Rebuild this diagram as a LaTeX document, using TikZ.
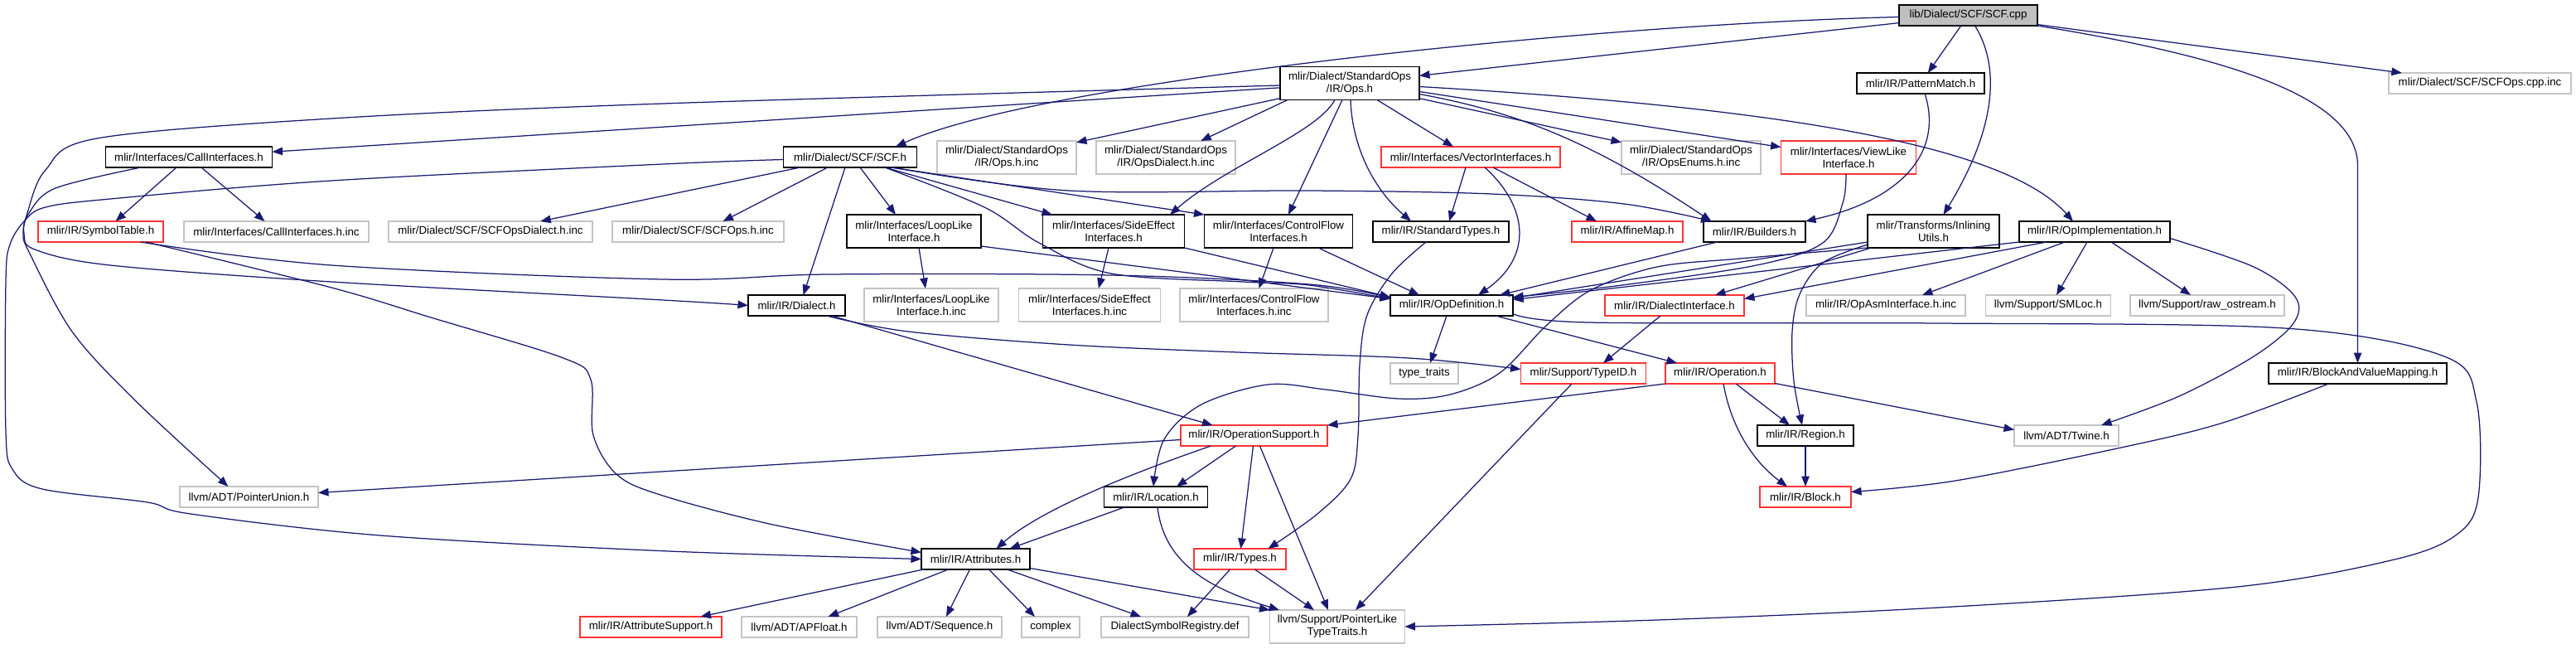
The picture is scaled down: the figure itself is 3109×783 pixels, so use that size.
\documentclass[tikz,border=0pt]{standalone}
\usepackage{fontspec}
\setmainfont{Liberation Sans}
\usetikzlibrary{arrows.meta}
\definecolor{edgecol}{HTML}{191970}
\definecolor{boxred}{HTML}{FF3333}
\definecolor{boxgray}{HTML}{C4C4C4}
\definecolor{rootfill}{HTML}{BFBFBF}
\newcommand{\bx}[6]{\node[#1,minimum width=#4pt,minimum height=#5pt] (#2) at (#3) {#6};}
\tikzset{
 base/.style={rectangle, inner sep=0pt, outer sep=0pt, align=center, text=black, font=\fontsize{13.3}{15}\selectfont},
 blk/.style={base, draw=black, line width=1.4pt},
 redb/.style={base, draw=boxred, line width=1.5pt},
 grayb/.style={base, draw=boxgray, line width=1.5pt},
 rootb/.style={base, draw=black, fill=rootfill, line width=1.4pt},
 dep/.style={draw=edgecol, line width=1.25pt, -{Triangle[length=12.5pt,width=9.5pt]}},
 sm/.style={smooth, tension=0.55}
}
\begin{document}
\begin{tikzpicture}[x=1pt,y=-1pt]
\useasboundingbox (0,0) rectangle (3109,783);
% ---------- nodes ----------
\bx{rootb}{root}{2375.5,18.5}{167}{25}{lib/Dialect/SCF/SCF.cpp}
\bx{blk}{ops}{1629,100.5}{168}{40}{mlir/Dialect/StandardOps\\/IR/Ops.h}
\bx{blk}{pattern}{2318,100.5}{154}{25}{mlir/IR/PatternMatch.h}
\bx{grayb}{scfopscpp}{2993,100.5}{220}{25}{mlir/Dialect/SCF/SCFOps.cpp.inc}
\bx{blk}{callif}{228,189.5}{201}{25}{mlir/Interfaces/CallInterfaces.h}
\bx{blk}{scfh}{1026,189.5}{161}{25}{mlir/Dialect/SCF/SCF.h}
\bx{grayb}{opsinc}{1215,190}{168}{40}{mlir/Dialect/StandardOps\\/IR/Ops.h.inc}
\bx{grayb}{opsdialectinc}{1407,190}{168}{40}{mlir/Dialect/StandardOps\\/IR/OpsDialect.h.inc}
\bx{redb}{vectorif}{1775,189.5}{216}{25}{mlir/Interfaces/VectorInterfaces.h}
\bx{grayb}{opsenums}{2041,190}{168}{40}{mlir/Dialect/StandardOps\\/IR/OpsEnums.h.inc}
\bx{redb}{viewlike}{2231,190}{163}{40}{mlir/Interfaces/ViewLike\\Interface.h}
\bx{redb}{symtab}{121.5,279.5}{151}{25}{mlir/IR/SymbolTable.h}
\bx{grayb}{callifinc}{333.5,279.5}{223}{25}{mlir/Interfaces/CallInterfaces.h.inc}
\bx{grayb}{scfdialectinc}{592,279.5}{246}{25}{mlir/Dialect/SCF/SCFOpsDialect.h.inc}
\bx{grayb}{scfopsinc}{842.5,279.5}{207}{25}{mlir/Dialect/SCF/SCFOps.h.inc}
\bx{blk}{looplike}{1103,279}{162}{40}{mlir/Interfaces/LoopLike\\Interface.h}
\bx{blk}{sideeffect}{1344,279}{171}{40}{mlir/Interfaces/SideEffect\\Interfaces.h}
\bx{blk}{controlflow}{1543,279}{179}{40}{mlir/Interfaces/ControlFlow\\Interfaces.h}
\bx{blk}{stdtypes}{1739,279.5}{164}{25}{mlir/IR/StandardTypes.h}
\bx{redb}{affinemap}{1964,279.5}{134}{25}{mlir/IR/AffineMap.h}
\bx{blk}{builders}{2117.5,279.5}{123}{25}{mlir/IR/Builders.h}
\bx{blk}{inlining}{2333.5,279}{159}{40}{mlir/Transforms/Inlining\\Utils.h}
\bx{blk}{opimpl}{2528,279.5}{182}{25}{mlir/IR/OpImplementation.h}
\bx{blk}{dialect}{961.5,368.5}{117}{25}{mlir/IR/Dialect.h}
\bx{grayb}{looplikeinc}{1124,368}{162}{40}{mlir/Interfaces/LoopLike\\Interface.h.inc}
\bx{grayb}{sideeffectinc}{1315,368}{171}{40}{mlir/Interfaces/SideEffect\\Interfaces.h.inc}
\bx{grayb}{controlflowinc}{1513.5,368}{179}{40}{mlir/Interfaces/ControlFlow\\Interfaces.h.inc}
\bx{blk}{opdef}{1752,368.5}{148}{25}{mlir/IR/OpDefinition.h}
\bx{redb}{dialectif}{2021,368.5}{168}{25}{mlir/IR/DialectInterface.h}
\bx{grayb}{opasm}{2276,368.5}{192}{25}{mlir/IR/OpAsmInterface.h.inc}
\bx{grayb}{smloc}{2472,368.5}{151}{25}{llvm/Support/SMLoc.h}
\bx{grayb}{rawostream}{2664,368.5}{186}{25}{llvm/Support/raw\_ostream.h}
\bx{grayb}{typetraits}{1719,450.5}{82}{25}{type\_traits}
\bx{redb}{typeid}{1911,450.5}{151}{25}{mlir/Support/TypeID.h}
\bx{redb}{operation}{2076,450.5}{132}{25}{mlir/IR/Operation.h}
\bx{blk}{bavm}{2845.5,450.5}{215}{25}{mlir/IR/BlockAndValueMapping.h}
\bx{redb}{opsupport}{1513.5,525.5}{177}{25}{mlir/IR/OperationSupport.h}
\bx{blk}{region}{2179,525.5}{116}{25}{mlir/IR/Region.h}
\bx{grayb}{twine}{2494,525.5}{126}{25}{llvm/ADT/Twine.h}
\bx{grayb}{pointerunion}{300.5,599.5}{167}{25}{llvm/ADT/PointerUnion.h}
\bx{blk}{location}{1395,599.5}{125}{25}{mlir/IR/Location.h}
\bx{redb}{block}{2179,599.5}{110}{25}{mlir/IR/Block.h}
\bx{blk}{attributes}{1177.5,674.5}{131}{25}{mlir/IR/Attributes.h}
\bx{redb}{types}{1496.5,674.5}{111}{25}{mlir/IR/Types.h}
\bx{redb}{attrsupport}{785.5,756.5}{171}{25}{mlir/IR/AttributeSupport.h}
\bx{grayb}{apfloat}{964.5,756.5}{139}{25}{llvm/ADT/APFloat.h}
\bx{grayb}{sequence}{1134,756.5}{150}{25}{llvm/ADT/Sequence.h}
\bx{grayb}{complex}{1268,756.5}{70}{25}{complex}
\bx{grayb}{dsr}{1418,756.5}{178}{25}{DialectSymbolRegistry.def}
\bx{grayb}{ptrlike}{1614,756}{163}{40}{llvm/Support/PointerLike\\TypeTraits.h}
% ---------- edges from SCF.cpp ----------
\draw[dep] (root) -- (ops);
\draw[dep] (root) .. controls (1900,30) and (1250,100) .. ([xshift=55]scfh.north);
\draw[dep] (root) -- (pattern);
\draw[dep] ([xshift=8]root.south) .. controls (2420,90) and (2400,170) .. ([xshift=12]inlining.north);
\draw[dep] (root) -- (scfopscpp);
\draw[dep] (root.south east) .. controls (2700,70) and (2845.5,120) .. (2845.5,200) -- (bavm.north);
% ---------- edges from Ops.h ----------
\draw[dep] (ops) -- (callif);
\draw[dep] plot[sm] coordinates {([yshift=-2.5]ops.west) (800,125) (400,143) (117,167) (55,205) (33,257) (29,282) (42,301) (133,320) (400,340) (800,362) (dialect.west)};
\draw[dep] (ops) -- (opsinc);
\draw[dep] ([xshift=-75]ops.south) -- (opsdialectinc);
\draw[dep] ([xshift=-18]ops.south) .. controls (1590,160) and (1480,200) .. ([xshift=68]sideeffect.north);
\draw[dep] ([xshift=-9]ops.south) -- ([xshift=12]controlflow.north);
\draw[dep] ([xshift=1]ops.south) .. controls (1632,180) and (1660,230) .. ([xshift=-36]stdtypes.north);
\draw[dep] ([xshift=33]ops.south) -- ([xshift=-21]vectorif.north);
\draw[dep] (ops) -- (opsenums);
\draw[dep] ([yshift=-10]ops.east) -- (viewlike);
\draw[dep] ([yshift=-13]ops.east) .. controls (1830,135) and (1920,170) .. ([xshift=-52]builders.north);
\draw[dep] ([yshift=-4]ops.east) .. controls (2150,130) and (2420,175) .. ([xshift=-26]opimpl.north);
% ---------- edges from SCF.h ----------
\draw[dep] plot[sm] coordinates {([yshift=-3]scfh.west) (800,198) (400,218) (133,240) (55,250) (30,266) (12,295) (7,340) (7,520) (15,566) (51,590) (178,606) (230,620) (459,646) (800,664.7) (attributes.west)};
\draw[dep] (scfh) -- (scfdialectinc);
\draw[dep] ([xshift=-27]scfh.south) -- ([xshift=30]scfopsinc.north);
\draw[dep] ([xshift=-6]scfh.south) -- ([xshift=8]dialect.north);
\draw[dep] ([xshift=12]scfh.south) -- ([xshift=-22]looplike.north);
\draw[dep] ([xshift=42]scfh.south) -- ([xshift=-74]sideeffect.north);
\draw[dep] ([xshift=50]scfh.south) -- (controlflow.north west);
\draw[dep] plot[sm] coordinates {([xshift=50]scfh.south) (1290,230) (1580,230) (1800,234) (1960,246) ([xshift=-52]builders.north)};
\draw[dep] plot[sm] coordinates {([xshift=42]scfh.south) (1188,250) (1254,293) (1341,330) (1500,340) (1580,344) ([yshift=8]opdef.west)};
% ---------- CallInterfaces / SymbolTable ----------
\draw[dep] ([xshift=-15]callif.south) -- ([xshift=18]symtab.north);
\draw[dep] ([xshift=15]callif.south) -- ([xshift=-14]callifinc.north);
\draw[dep] plot[sm] coordinates {([xshift=-58]callif.south) (67,227) (35,257) (28,282) (36,306) (87,400) (163,483) ([xshift=-25]pointerunion.north)};
\draw[dep] plot[sm] coordinates {([xshift=48]symtab.south) (400,320) (800,337) (1000,331) (1340,332) (1580,343) ([yshift=9]opdef.west)};
\draw[dep] plot[sm] coordinates {([xshift=55]symtab.south) (400,347) (520,383) (680,432) (713,458) (716,525) (745,573) (800,598) (933,633) ([yshift=8]attributes.west)};
% ---------- Dialect.h ----------
\draw[dep] plot[sm] coordinates {([xshift=36]dialect.south) (1096,400) (1290,416) (1494,425) (1700,432) ([yshift=5]typeid.west)};
\draw[dep] ([xshift=42]dialect.south) -- ([xshift=-50]opsupport.north);
% ---------- interfaces ----------
\draw[dep] ([xshift=6]looplike.south) -- ([xshift=-7]looplikeinc.north);
\draw[dep] ([yshift=-18]looplike.east) -- ([yshift=8]opdef.west);
\draw[dep] ([xshift=-6]sideeffect.south) -- ([xshift=11]sideeffectinc.north);
\draw[dep] (sideeffect.south east) -- ([yshift=10]opdef.west);
\draw[dep] ([xshift=-6]controlflow.south) -- ([xshift=6]controlflowinc.north);
\draw[dep] ([xshift=48]controlflow.south) -- ([xshift=-39]opdef.north);
\draw[dep] ([xshift=-6]vectorif.south) -- ([xshift=10]stdtypes.north);
\draw[dep] ([xshift=27]vectorif.south) -- ([xshift=-37]affinemap.north);
\draw[dep] ([xshift=17]vectorif.south) .. controls (1845,250) and (1850,310) .. ([xshift=32]opdef.north);
\draw[dep] plot[sm] coordinates {([xshift=-18]stdtypes.south) (1680,330) (1650,380) (1641,440) (1639,526) (1630,578) (1590,620) ([xshift=34]types.north)};
\draw[dep] ([xshift=-45]builders.south) -- ([xshift=58]opdef.north);
\draw[dep] ([xshift=5]pattern.south) .. controls (2345,180) and (2300,240) .. (builders.north east);
\draw[dep] plot[sm] coordinates {([xshift=-3]viewlike.south) (2224,245) (2200,293) (2120,320) (1950,345) ([yshift=10]opdef.east)};
% ---------- InliningUtils ----------
\draw[dep] ([yshift=-13]inlining.west) -- ([yshift=9]opdef.east);
\draw[dep] ([xshift=-75]inlining.south) -- ([xshift=49]dialectif.north);
\draw[dep] plot[sm] coordinates {([yshift=-16]inlining.west) (2200,317) (2172,355) (2163,400) (2165,460) ([xshift=-4]region.north)};
\draw[dep] plot[sm] coordinates {(inlining.south west) (2100,312) (2000,322) (1920,350) (1866,393) (1810,450) (1750,476) (1688,481) (1600,470) (1530,464) (1450,488) (1405,530) ([xshift=-3]location.north)};
% ---------- OpImplementation ----------
\draw[dep] (opimpl.south west) -- ([yshift=7]opdef.east);
\draw[dep] ([xshift=-58]opimpl.south) -- ([yshift=8]dialectif.east);
\draw[dep] ([xshift=-36]opimpl.south) -- ([xshift=44]opasm.north);
\draw[dep] ([xshift=-9]opimpl.south) -- ([xshift=10]smloc.north);
\draw[dep] ([xshift=20]opimpl.south) -- ([xshift=-20]rawostream.north);
\draw[dep] plot[sm] coordinates {([yshift=-8]opimpl.east) (2720,322) (2770,358) (2768,390) (2720,430) (2630,478) ([xshift=42]twine.north)};
% ---------- OpDefinition ----------
\draw[dep] ([xshift=-6]opdef.south) -- ([xshift=7]typetraits.north);
\draw[dep] ([xshift=53]opdef.south) -- ([xshift=-52]operation.north);
\draw[dep] plot[sm] coordinates {([yshift=-10]opdef.east) (1917,389) (2340,390) (2757,396) (2950,430) (2989,485) (2991,600) (2965,645) (2890,675) (2700,708) (2340,733) (2000,748) (ptrlike.east)};
% ---------- TypeID / DialectInterface ----------
\draw[dep] ([xshift=-14]typeid.south) -- ([xshift=22]ptrlike.north);
\draw[dep] ([xshift=-17]dialectif.south) -- ([xshift=24]typeid.north);
% ---------- Operation ----------
\draw[dep] (operation.south west) -- (opsupport.north east);
\draw[dep] ([xshift=19]operation.south) -- ([xshift=-19]region.north);
\draw[dep] ([xshift=4]operation.south) .. controls (2090,520) and (2120,560) .. ([xshift=-22]block.north);
\draw[dep] ([yshift=-12]operation.east) -- ([yshift=7]twine.west);
\draw[dep] (region) -- (block);
\draw[dep] plot[sm] coordinates {([xshift=-35]bavm.south) (2683,510) (2560,540) (2360,580) ([yshift=6]block.east)};
% ---------- OperationSupport ----------
\draw[dep] ([yshift=-5]opsupport.west) -- ([yshift=5]pointerunion.east);
\draw[dep] ([xshift=-52]opsupport.south) .. controls (1340,580) and (1250,620) .. ([xshift=25]attributes.north);
\draw[dep] ([xshift=-22]opsupport.south) -- ([xshift=25]location.north);
\draw[dep] ([xshift=-1]opsupport.south) -- ([xshift=1]types.north);
\draw[dep] ([xshift=7]opsupport.south) -- ([xshift=-11]ptrlike.north);
% ---------- Location / Types ----------
\draw[dep] ([xshift=-38]location.south) -- ([xshift=41]attributes.north);
\draw[dep] ([xshift=2]location.south) .. controls (1405,680) and (1460,710) .. ([xshift=-70]ptrlike.north);
\draw[dep] ([xshift=-12]types.south) -- ([xshift=15]dsr.north);
\draw[dep] ([xshift=18]types.south) -- ([xshift=-28]ptrlike.north);
% ---------- Attributes ----------
\draw[dep] ([xshift=-63]attributes.south) -- ([xshift=60]attrsupport.north);
\draw[dep] ([xshift=-33]attributes.south) -- ([xshift=35]apfloat.north);
\draw[dep] ([xshift=-7]attributes.south) -- ([xshift=8]sequence.north);
\draw[dep] ([xshift=16]attributes.south) -- ([xshift=-19]complex.north);
\draw[dep] ([xshift=38]attributes.south) -- ([xshift=-41]dsr.north);
\draw[dep] ([yshift=-11]attributes.east) -- (ptrlike.north west);
\end{tikzpicture}
\end{document}
